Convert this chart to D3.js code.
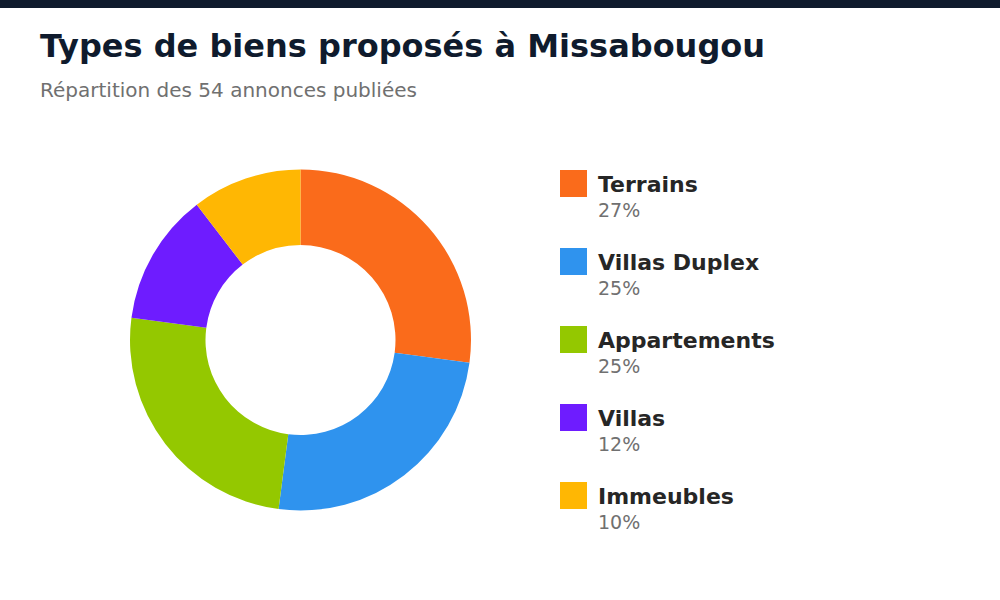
<!DOCTYPE html>
<html><head><meta charset="utf-8">
<script src="https://cdn.jsdelivr.net/npm/d3@7"></script>
<style>html,body{margin:0;padding:0;background:#fff;}svg{display:block;font-family:"DejaVu Sans",sans-serif;}</style>
</head><body>
<svg id="c" width="1000" height="600"></svg>
<script>
const categories = ["Terrains","Villas Duplex","Appartements","Villas","Immeubles"];
const values = [27.1, 24.9, 25.0, 12.5, 10.4];
const percentLabels = ["27%","25%","25%","12%","10%"];
const colors = ["#FA6B1B","#2F93EE","#94C800","#6E1CFF","#FFB703"];

const svg = d3.select("#c");
svg.append("rect").attr("x",0).attr("y",0).attr("width",1000).attr("height",8).attr("fill","#0F1B2D");
svg.append("text").attr("x",40).attr("y",57).attr("font-size",32).attr("font-weight","bold").attr("fill","#0F1B2D").text("Types de biens proposés à Missabougou");
svg.append("text").attr("x",40).attr("y",97).attr("font-size",20).attr("fill","#707070").text("Répartition des 54 annonces publiées");

const pie = d3.pie().sort(null).value(d=>d);
const arc = d3.arc().innerRadius(95).outerRadius(170.5);
const g = svg.append("g").attr("transform","translate(300.5,340)");
g.selectAll("path").data(pie(values)).join("path").attr("d",arc).attr("fill",(d,i)=>colors[i]);

const y = d3.scaleBand().domain(categories).range([170,560]);
const leg = svg.append("g");
const items = leg.selectAll("g").data(categories).join("g").attr("transform",d=>`translate(560,${y(d)})`);
items.append("rect").attr("width",27).attr("height",27).attr("fill",(d,i)=>colors[i]);
items.append("text").attr("x",38).attr("y",22).attr("font-size",22).attr("font-weight","bold").attr("fill","#262626").text(d=>d);
items.append("text").attr("x",38).attr("y",47).attr("font-size",19).attr("fill","#707070").text((d,i)=>percentLabels[i]);
</script>
</body></html>
